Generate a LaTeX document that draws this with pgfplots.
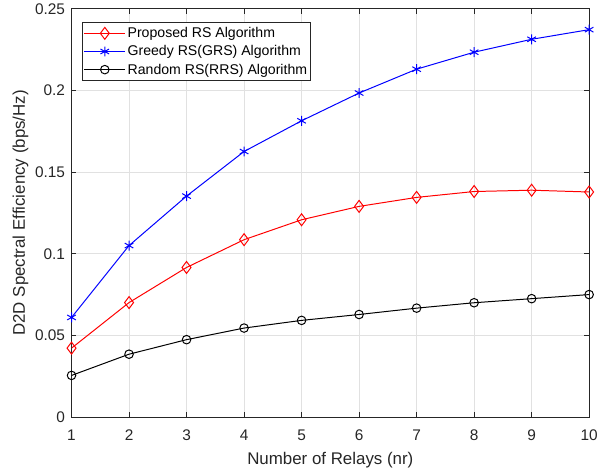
\documentclass[border=0pt]{standalone}
\usepackage{fontspec}
\setmainfont{Liberation Sans}
\usepackage{pgfplots}
\pgfplotsset{compat=1.18}
\definecolor{axc}{RGB}{38,38,38}
\definecolor{gridc}{RGB}{225,225,225}
\begin{document}
\begin{tikzpicture}[x=1bp,y=1bp]
\begin{axis}[
  scale only axis,
  width=521bp, height=411bp,
  xmin=1, xmax=10, ymin=0, ymax=0.25,
  xtick={1,2,...,10},
  ytick={0,0.05,0.1,0.15,0.2,0.25},
  yticklabels={0,0.05,0.1,0.15,0.2,0.25},
  grid=major,
  major grid style={gridc, line width=0.6bp},
  axis line style={axc, line width=0.6bp},
  tick style={axc, line width=0.6bp},
  tick align=inside,
  major tick length=5bp,
  /pgf/number format/assume math mode=true,
  tick label style={font=\fontsize{15.5bp}{18bp}\selectfont, text=axc},
  xticklabel style={yshift=-9bp},
  yticklabel style={xshift=-3bp},
  xlabel={Number of Relays (nr)},
  ylabel={D2D Spectral Efficiency (bps/Hz)},
  label style={font=\fontsize{17bp}{20bp}\selectfont, text=axc},
  xlabel style={yshift=-5bp},
  ylabel style={yshift=0bp},
  legend style={at={(0.0205,0.967)}, anchor=north west, draw=axc, line width=0.6bp,
    font=\fontsize{14.2bp}{17bp}\selectfont, text=black,
    inner xsep=1.5bp, inner ysep=3bp, row sep=2.5bp, legend cell align=left},
  legend image code/.code={\draw[#1, mark repeat=2, mark phase=2, line width=1bp] plot coordinates {(0bp,0bp) (20.5bp,0bp) (41bp,0bp)};},
]
\addplot[red, line width=1bp, mark=diamond, mark size=6bp, mark options={solid, fill=none, line width=1bp}] coordinates {
(1,0.0422) (2,0.0701) (3,0.0916) (4,0.1086) (5,0.1208) (6,0.1290) (7,0.1345) (8,0.1381) (9,0.1389) (10,0.1378)};
\addlegendentry{Proposed RS Algorithm}
\addplot[blue, line width=1bp, mark=asterisk, mark size=5bp, mark options={solid, line width=1bp}] coordinates {
(1,0.0610) (2,0.1050) (3,0.1353) (4,0.1626) (5,0.1814) (6,0.1984) (7,0.2130) (8,0.2234) (9,0.2313) (10,0.2372)};
\addlegendentry{Greedy RS(GRS) Algorithm}
\addplot[black, line width=1bp, mark=o, mark size=4.3bp, mark options={solid, fill=none, line width=1bp}] coordinates {
(1,0.0255) (2,0.0385) (3,0.0474) (4,0.0545) (5,0.0592) (6,0.0628) (7,0.0667) (8,0.0700) (9,0.0725) (10,0.0750)};
\addlegendentry{Random RS(RRS) Algorithm}
\end{axis}
\useasboundingbox ([shift={(-72bp,-58.7bp)}]current axis.south west) rectangle ([shift={(8bp,8.3bp)}]current axis.north east);
\end{tikzpicture}
\end{document}
